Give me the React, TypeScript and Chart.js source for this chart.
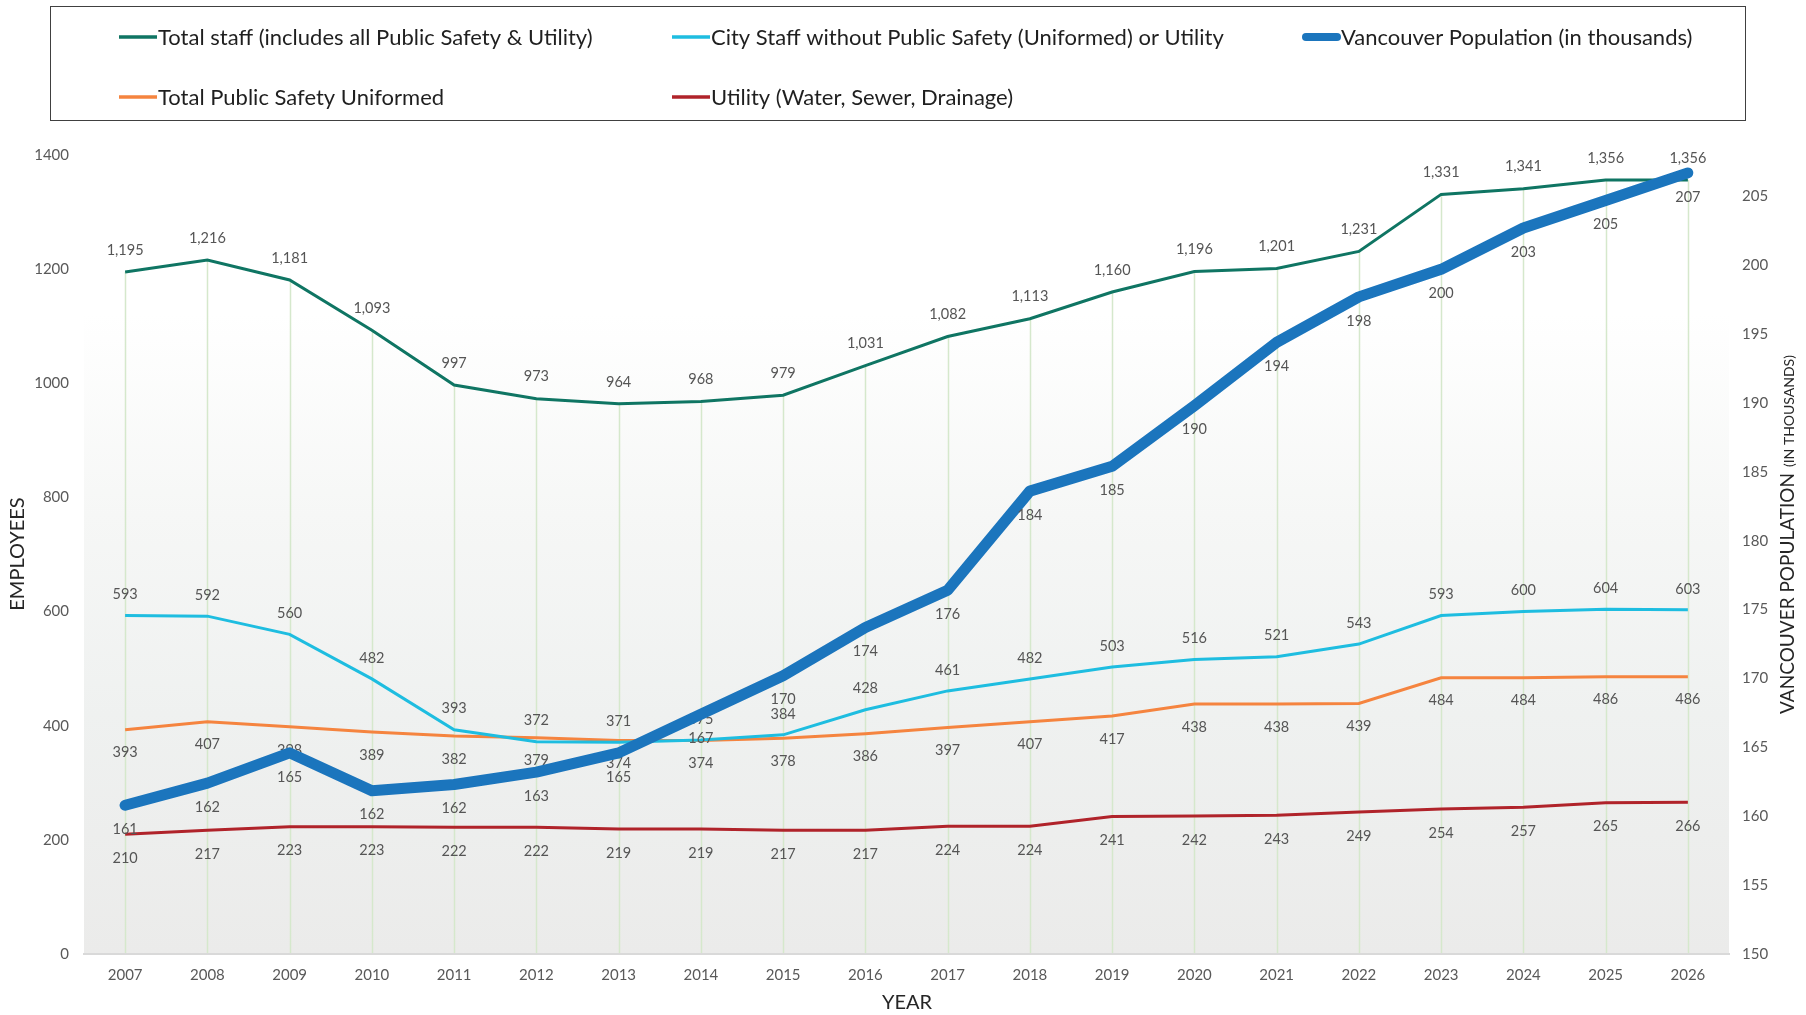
import React, { useEffect, useRef } from 'react';
import { Chart, registerables } from 'chart.js';

Chart.register(...registerables);

// ---------------- DATA ----------------
const years = ['2007', '2008', '2009', '2010', '2011', '2012', '2013', '2014', '2015', '2016', '2017', '2018', '2019', '2020', '2021', '2022', '2023', '2024', '2025', '2026'];
const totalStaff = [1195, 1216, 1181, 1093, 997, 973, 964, 968, 979, 1031, 1082, 1113, 1160, 1196, 1201, 1231, 1331, 1341, 1356, 1356];
const cityStaff = [593, 592, 560, 482, 393, 372, 371, 375, 384, 428, 461, 482, 503, 516, 521, 543, 593, 600, 604, 603];
const publicSafety = [393, 407, 398, 389, 382, 379, 374, 374, 378, 386, 397, 407, 417, 438, 438, 439, 484, 484, 486, 486];
const utility = [210, 217, 223, 223, 222, 222, 219, 219, 217, 217, 224, 224, 241, 242, 243, 249, 254, 257, 265, 266];
const population = [160.8, 162.4, 164.6, 161.85, 162.3, 163.2, 164.6, 167.4, 170.2, 173.7, 176.4, 183.6, 185.4, 189.8, 194.4, 197.7, 199.7, 202.7, 204.7, 206.7];

const employeeTicks = [0, 200, 400, 600, 800, 1000, 1200, 1400];
const populationTicks = [150, 155, 160, 165, 170, 175, 180, 185, 190, 195, 200, 205];

const seriesNames = [
  'Total staff (includes all Public Safety & Utility)',
  'City Staff without Public Safety (Uniformed) or Utility',
  'Vancouver Population (in thousands)',
  'Total Public Safety Uniformed',
  'Utility (Water, Sewer, Drainage)',
];
const seriesColors = ['#0f7563', '#1ebde0', '#1b75bd', '#f5843f', '#b0232a'];

// ---------------- STYLE ----------------
const FONT = 'Lato, "Noto Sans", sans-serif';

const backgroundPlugin = {
  id: 'plotBackground',
  beforeDraw(chart: any) {
    const { ctx, chartArea: a } = chart;
    ctx.save();
    const g = ctx.createLinearGradient(0, a.top, 0, a.bottom);
    g.addColorStop(0, '#ffffff');
    g.addColorStop(0.2, '#ffffff');
    g.addColorStop(0.45, '#f6f7f6');
    g.addColorStop(0.7, '#eff1f0');
    g.addColorStop(1, '#ebebea');
    ctx.fillStyle = g;
    ctx.fillRect(a.left, a.top, a.right - a.left, a.bottom - a.top);

    // drop lines from the highest employee point down to the axis
    const leftSets = [0, 1, 3, 4];
    const n = chart.data.labels.length;
    ctx.strokeStyle = '#d5e8cc';
    ctx.lineWidth = 1.5;
    for (let j = 0; j < n; j++) {
      let top = Infinity;
      let x = 0;
      leftSets.forEach((i) => {
        const pt = chart.getDatasetMeta(i).data[j];
        if (pt && pt.y < top) { top = pt.y; x = pt.x; }
      });
      ctx.beginPath();
      ctx.moveTo(Math.round(x) + 0.5, top);
      ctx.lineTo(Math.round(x) + 0.5, a.bottom);
      ctx.stroke();
    }
    ctx.restore();
  },
};

const valueLabelPlugin = {
  id: 'valueLabels',
  afterDatasetDraw(chart: any, args: any, opts: any) {
    const idx = args.index;
    const meta = args.meta;
    const ds = chart.data.datasets[idx];
    const off = opts.offsets[idx];
    const ctx = chart.ctx;
    ctx.save();
    ctx.font = `14.5px ${FONT}`;
    ctx.fillStyle = '#555555';
    ctx.textAlign = 'center';
    ctx.textBaseline = 'middle';
    meta.data.forEach((pt: any, j: number) => {
      const v = ds.data[j];
      const txt = Math.round(v).toLocaleString('en-US');
      ctx.fillText(txt, pt.x, pt.y + off);
    });
    ctx.restore();
  },
};

const legendAndTitlesPlugin = {
  id: 'legendTitles',
  afterDraw(chart: any) {
    const ctx = chart.ctx;
    ctx.save();
    // legend box
    ctx.strokeStyle = '#404040';
    ctx.lineWidth = 1;
    ctx.strokeRect(50.5, 6.5, 1695, 114);

    const cols = [119, 672, 1302];
    const rows = [37, 97];
    const slots = [[0, 0], [1, 0], [2, 0], [0, 1], [1, 1]];
    chart.data.datasets.forEach((ds: any, i: number) => {
      const [c, r] = slots[i];
      const x = cols[c];
      const y = rows[r];
      ctx.beginPath();
      ctx.strokeStyle = ds.borderColor;
      if (i === 2) {
        ctx.lineWidth = 8;
        ctx.lineCap = 'round';
        ctx.moveTo(x + 4, y);
        ctx.lineTo(x + 35, y);
      } else {
        ctx.lineWidth = 3.5;
        ctx.lineCap = 'butt';
        ctx.moveTo(x, y);
        ctx.lineTo(x + 38, y);
      }
      ctx.stroke();
      ctx.fillStyle = '#1f1f1f';
      ctx.font = `22px ${FONT}`;
      ctx.textAlign = 'left';
      ctx.textBaseline = 'middle';
      ctx.fillText(ds.label, x + 39, y + 1);
    });

    // axis titles
    ctx.fillStyle = '#262626';
    ctx.font = `20px ${FONT}`;
    ctx.textAlign = 'center';
    ctx.textBaseline = 'middle';
    ctx.save();
    ctx.translate(18, 554);
    ctx.rotate(-Math.PI / 2);
    ctx.fillText('EMPLOYEES', 0, 0);
    ctx.restore();

    ctx.fillText('YEAR', 907, 1003);

    ctx.save();
    ctx.translate(1787, 714);
    ctx.rotate(-Math.PI / 2);
    ctx.textAlign = 'left';
    ctx.textBaseline = 'alphabetic';
    ctx.font = `19px ${FONT}`;
    const big = 'VANCOUVER POPULATION';
    ctx.fillText(big, 0, 7);
    const w = ctx.measureText(big).width;
    ctx.font = `14px ${FONT}`;
    ctx.fillText('(IN THOUSANDS)', w + 6, 7);
    ctx.restore();

    ctx.restore();
  },
};

export default function App() {
  const ref = useRef<HTMLCanvasElement | null>(null);

  useEffect(() => {
    if (!ref.current) return;
    const tickFont = { family: FONT, size: 15 };
    const chart = new Chart(ref.current, {
      type: 'line',
      data: {
        labels: years,
        datasets: [
          { label: seriesNames[0], data: totalStaff, borderColor: seriesColors[0], backgroundColor: seriesColors[0], borderWidth: 3, yAxisID: 'y', order: 1 },
          { label: seriesNames[1], data: cityStaff, borderColor: seriesColors[1], backgroundColor: seriesColors[1], borderWidth: 3, yAxisID: 'y', order: 2 },
          { label: seriesNames[2], data: population, borderColor: seriesColors[2], backgroundColor: seriesColors[2], borderWidth: 11, yAxisID: 'y1', order: 0, borderCapStyle: 'round', borderJoinStyle: 'round' },
          { label: seriesNames[3], data: publicSafety, borderColor: seriesColors[3], backgroundColor: seriesColors[3], borderWidth: 3, yAxisID: 'y', order: 3 },
          { label: seriesNames[4], data: utility, borderColor: seriesColors[4], backgroundColor: seriesColors[4], borderWidth: 3, yAxisID: 'y', order: 4 },
        ] as any,
      },
      options: {
        animation: false,
        responsive: false,
        devicePixelRatio: 1,
        layout: { padding: { top: 155, left: 0, right: 0, bottom: 0 } },
        elements: { point: { radius: 0, hoverRadius: 0 }, line: { tension: 0 } },
        plugins: {
          legend: { display: false },
          tooltip: { enabled: false },
          title: { display: false },
          valueLabels: { offsets: [-22, -21, 24, 23, 24] },
        } as any,
        scales: {
          x: {
            type: 'category',
            offset: true,
            grid: { display: false, drawTicks: false },
            border: { display: true, color: '#d9d9d9', width: 2 },
            ticks: { font: tickFont, color: '#595959', padding: 12, maxRotation: 0, autoSkip: false },
            afterFit(s: any) { s.height = 61; },
          },
          y: {
            position: 'left',
            min: 0,
            max: 1400,
            grid: { display: false, drawTicks: false },
            border: { display: false },
            ticks: { font: tickFont, color: '#595959', padding: 15, callback: (v: any) => String(v) },
            afterBuildTicks(s: any) { s.ticks = employeeTicks.map((v) => ({ value: v })); },
            afterFit(s: any) { s.width = 84; },
          },
          y1: {
            position: 'right',
            min: 150,
            max: 208,
            grid: { display: false, drawTicks: false },
            border: { display: false },
            ticks: { font: tickFont, color: '#595959', padding: 13, callback: (v: any) => String(v) },
            afterBuildTicks(s: any) { s.ticks = populationTicks.map((v) => ({ value: v })); },
            afterFit(s: any) { s.width = 77; },
          },
        } as any,
      },
      plugins: [backgroundPlugin, valueLabelPlugin, legendAndTitlesPlugin],
    });
    return () => chart.destroy();
  }, []);

  return (
    <div style={{ position: 'absolute', left: 0, top: 0, width: 1806, height: 1015, background: '#ffffff' }}>
      <canvas ref={ref} width={1806} height={1015} style={{ display: 'block', width: 1806, height: 1015 }} />
    </div>
  );
}
